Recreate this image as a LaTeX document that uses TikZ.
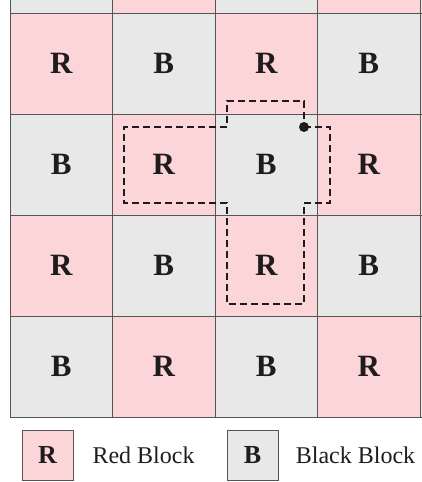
\documentclass[tikz,border=0pt]{standalone}
\usepackage{fontspec}
\setmainfont{Liberation Serif}
\definecolor{redblk}{RGB}{251,213,215}
\definecolor{blkblk}{RGB}{232,232,232}
\definecolor{gridln}{RGB}{85,85,85}
\definecolor{ink}{RGB}{30,28,28}
\begin{document}
\begin{tikzpicture}[x=1pt,y=-1pt,
  cell/.style={draw=gridln, line width=1pt, minimum width=102.5pt, minimum height=101pt,
    inner sep=0pt, text=ink, font=\fontsize{31}{33}\selectfont\bfseries},
  legbox/.style={draw=gridln, line width=1pt, minimum width=51pt, minimum height=50pt,
    inner sep=0pt, text=ink, font=\fontsize{26}{28}\selectfont\bfseries},
  legtext/.style={inner sep=0pt, text=ink, font=\fontsize{24}{26}\selectfont},
  pathline/.style={draw=ink, line width=1.7pt, dash pattern=on 7pt off 4pt}]
\useasboundingbox (0,0) rectangle (422,482);
\begin{scope}
  \clip (9.5,0) rectangle (422,418);
  \foreach \r in {-1,0,1,2,3}{
    \foreach \c in {0,1,2,3,4}{
      \pgfmathtruncatemacro{\parity}{mod(\r+\c+2,2)}
      \pgfmathsetmacro{\xx}{10+102.5*\c+51.25}
      \pgfmathsetmacro{\yy}{13+101*\r+50.5}
      \pgfmathtruncatemacro{\partial}{(\r<0)||(\c>3)}
      \ifnum\parity=0
        \ifnum\partial=1
          \node[cell, fill=redblk] (cell\r\c) at (\xx,\yy) {};
        \else
          \node[cell, fill=redblk] (cell\r\c) at (\xx,\yy) {R};
        \fi
      \else
        \ifnum\partial=1
          \node[cell, fill=blkblk] (cell\r\c) at (\xx,\yy) {};
        \else
          \node[cell, fill=blkblk] (cell\r\c) at (\xx,\yy) {B};
        \fi
      \fi
    }
  }
\end{scope}
% dashed region
\coordinate (p1) at (227,101);
\coordinate (p2) at (304,101);
\coordinate (dot) at (304,127);
\coordinate (p4) at (330,127);
\coordinate (p5) at (330,203);
\coordinate (p6) at (304,203);
\coordinate (p7) at (304,304);
\coordinate (p8) at (227,304);
\coordinate (p9) at (227,203);
\coordinate (p10) at (124,203);
\coordinate (p11) at (124,127);
\coordinate (p12) at (227,127);
\draw[pathline] (dot) -- (p4) -- (p5) -- (p6) -- (p7) -- (p8) -- (p9) -- (p10) -- (p11) -- (p12) -- (p1) -- (p2) -- (dot);
\fill[ink] (dot) circle (5pt);
% legend
\node[legbox, fill=redblk] (legR) at (47.5,455) {R};
\node[legtext] (legRt) at (143.5,455) {Red Block};
\node[legbox, fill=blkblk] (legB) at (252.5,455) {B};
\node[legtext] (legBt) at (355.5,455) {Black Block};
\end{tikzpicture}
\end{document}
